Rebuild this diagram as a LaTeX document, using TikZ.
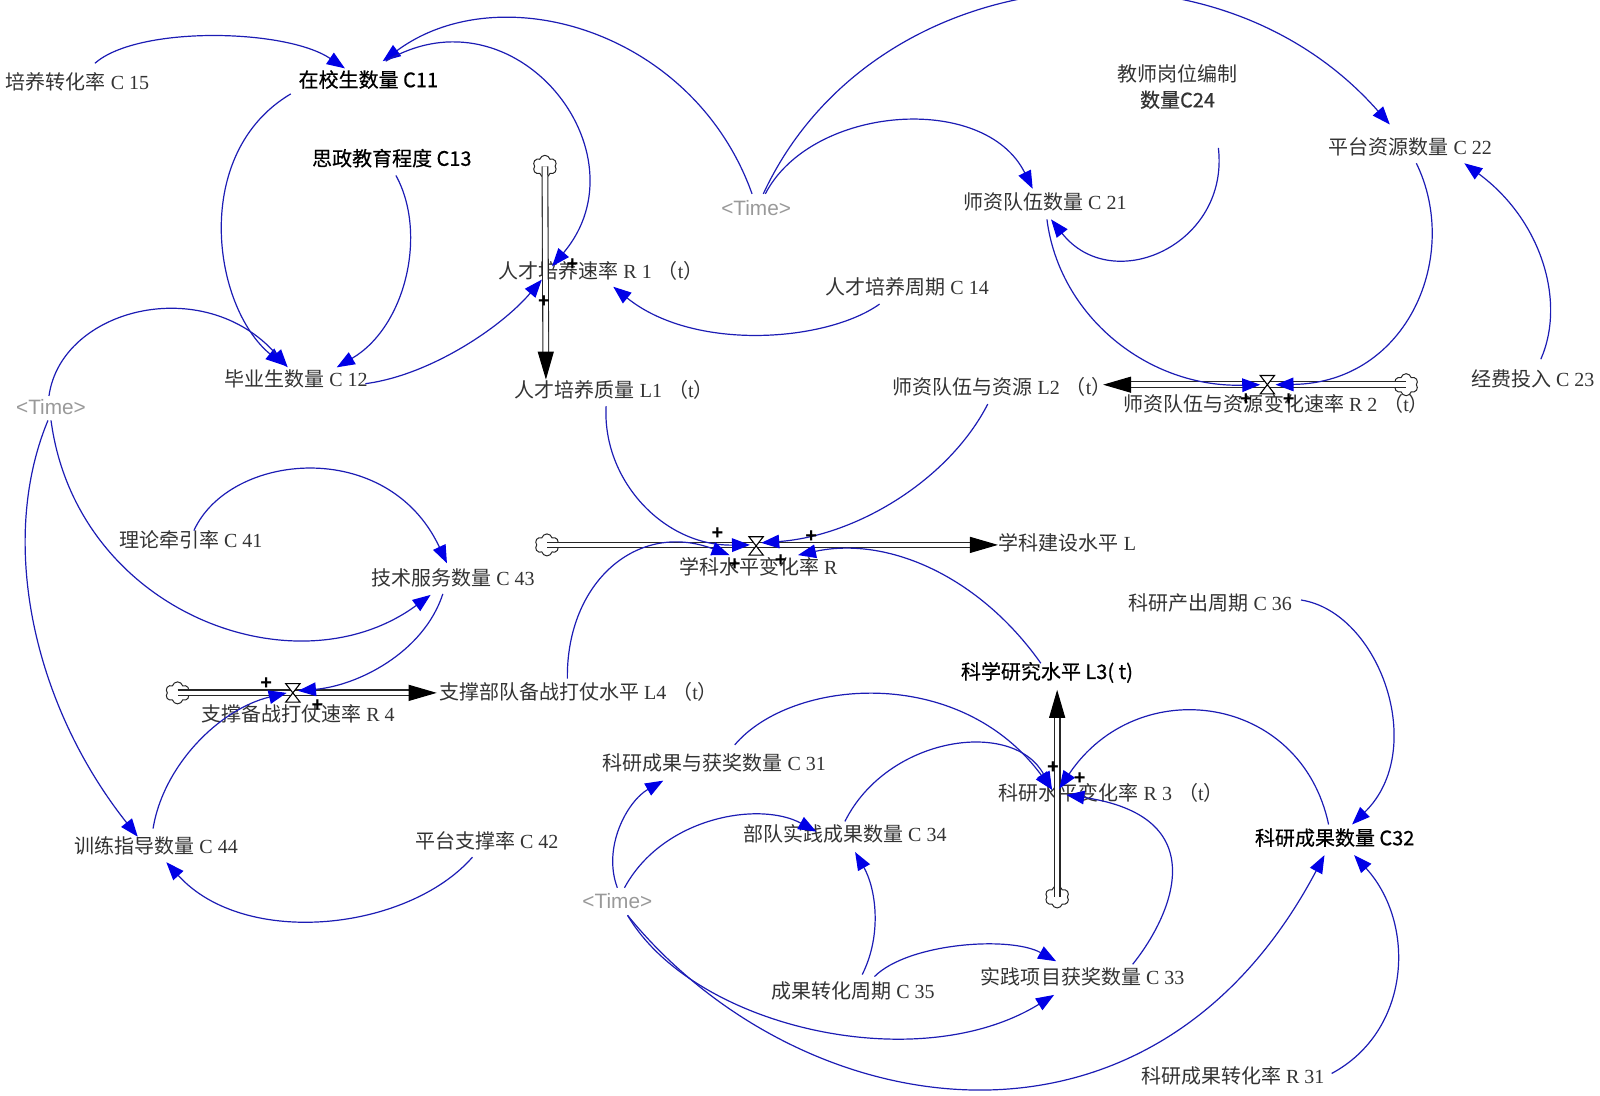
\documentclass[tikz,border=0pt]{standalone}
\usepackage{fontspec}
\setmainfont{Liberation Serif}
\newfontfamily\cjk{Noto Sans CJK SC}
\newfontfamily\cjkb[FakeBold=0.5]{Noto Sans CJK SC}
\newfontfamily\timefont{Liberation Sans}
\usetikzlibrary{arrows.meta,shapes.symbols}
\definecolor{linkcol}{HTML}{1C1CB4}
\definecolor{tipcol}{HTML}{0000E6}
\definecolor{timecol}{HTML}{999999}
\newcommand\zh[1]{{\cjk #1}}
\newcommand\tpar{\kern3pt\zh{（}t\zh{）}\kern-5pt}
\newcommand\lk[6]{\draw[link] ([shift={(#2)}]#1.center) .. controls (#5) and (#6) .. ([shift={(#4)}]#3.center);}
\newcommand\valve[2]{\node[inner sep=0pt,minimum size=0pt] (#1) at (#2) {};
  \draw[fill=white,line width=.55pt] ([shift={(-7,-9)}]#1.center) -- ([shift={(7,-9)}]#1.center) -- ([shift={(-7,9)}]#1.center) -- ([shift={(7,9)}]#1.center) -- cycle;}
\tikzset{
  lab/.style={inner sep=0pt,font=\fontsize{10}{12}\selectfont,text=black!80},
  blab/.style={inner sep=0pt,font=\cjkb\fontsize{10}{12}\selectfont,text=black},
  timelab/.style={inner sep=0pt,font=\timefont\fontsize{10.4}{12}\selectfont,text=timecol},
  pl/.style={inner sep=0pt,font=\timefont\bfseries\fontsize{10}{10}\selectfont},
  link/.style={draw=linkcol,line width=.6pt,-{Triangle[length=9pt,width=6.8pt,color=tipcol,fill=tipcol]}},
  pipe/.style={draw=black!85,line width=.55pt,double=white,double distance=2.3pt,-{Triangle[length=14pt,width=8pt,color=black,fill=black]}},
  cloudy/.style={cloud,draw=black!85,line width=.5pt,cloud puffs=6,cloud puff arc=150,aspect=1.2,inner sep=0pt,minimum width=12pt,minimum height=11pt},
}
\begin{document}
\begin{tikzpicture}[x=0.5102pt,y=-0.5102pt]
\useasboundingbox (0,0) rectangle (1568,1074);
\clip (0,0) rectangle (1568,1074);
% labels
\node[lab] (c15) at (76,80) {\zh{培养转化率} C 15};
\node[blab] (c11) at (361,78) {在校生数量 C11};
\node[blab] (c13) at (384,155) {思政教育程度 C13};
\node[lab] (r1) at (584,265) {\zh{人才培养速率} R 1\tpar};
\node[lab] (c14) at (889,281) {\zh{人才培养周期} C 14};
\node[lab] (c12) at (290,371) {\zh{毕业生数量} C 12};
\node[lab] (l1) at (597,382) {\zh{人才培养质量} L1\tpar};
\node[timelab] (t1) at (741,204) {<Time>};
\node[timelab] (t2) at (50,399) {<Time>};
\node[timelab] (t3) at (605,883) {<Time>};
\node[lab,align=center] (c24) at (1154,85) {\zh{教师岗位编制}\\[1pt]{\cjkb 数量C24}};
\node[lab] (c22) at (1382,144) {\zh{平台资源数量} C 22};
\node[lab] (c21) at (1024,198) {\zh{师资队伍数量} C 21};
\node[lab] (l2) at (977,379) {\zh{师资队伍与资源} L2\tpar};
\node[lab] (r2) at (1246,396) {\zh{师资队伍与资源变化速率} R 2\tpar};
\node[lab] (c23) at (1502,371) {\zh{经费投入} C 23};
\node[lab] (c41) at (187,529) {\zh{理论牵引率} C 41};
\node[lab] (c43) at (444,566) {\zh{技术服务数量} C 43};
\node[lab] (r) at (743,555) {\zh{学科水平变化率} R};
\node[lab] (l) at (1046,532) {\zh{学科建设水平} L};
\node[lab] (c36) at (1186,591) {\zh{科研产出周期} C 36};
\node[lab] (l4) at (562,678) {\zh{支撑部队备战打仗水平} L4\tpar};
\node[lab] (r4) at (292,700) {\zh{支撑备战打仗速率} R 4};
\node[blab] (l3) at (1026,659) {科学研究水平 L3( t)};
\node[lab] (c31) at (700,748) {\zh{科研成果与获奖数量} C 31};
\node[lab] (r3) at (1084,777) {\zh{科研水平变化率} R 3\tpar};
\node[lab] (c34) at (828,817) {\zh{部队实践成果数量} C 34};
\node[lab] (c42) at (477,824) {\zh{平台支撑率} C 42};
\node[lab] (c44) at (153,829) {\zh{训练指导数量} C 44};
\node[blab] (c32) at (1308,821) {科研成果数量 C32};
\node[lab] (c35) at (836,971) {\zh{成果转化周期} C 35};
\node[lab] (c33) at (1061,957) {\zh{实践项目获奖数量} C 33};
\node[lab] (r31) at (1208,1054) {\zh{科研成果转化率} R 31};
% clouds and pipes
\node[cloudy] (cl1) at (534,163) {};
\node[cloudy] (cl2) at (1378,377) {};
\node[cloudy] (cl3) at (1036,879) {};
\node[cloudy] (cl4) at (174,679) {};
\node[cloudy] (cl) at (536,534) {};
\draw[pipe] (cl1.center) -- ([shift={(-62,-10)}]l1.center);
\draw[pipe] (cl2.center) -- ([shift={(104,-2)}]l2.center);
\draw[pipe] (cl3.center) -- ([shift={(10,17)}]l3.center);
\draw[pipe] (cl4.center) -- ([shift={(-134,1)}]l4.center);
\draw[pipe] (cl.center) -- ([shift={(-68,2)}]l.center);
\valve{vr2}{1242,377}
\valve{vr4}{287,679}
\valve{vr}{741,535}
% links
\lk{c15}{17,-18}{c11}{-23,-11}{135,25}{280,28}
\lk{t1}{-4,-14}{c11}{14,-18}{680,30}{490,-25}
\lk{c11}{17,-18}{r1}{-43,-4}{505,-15}{635,150}
\lk{c11}{-76,14}{c12}{-12,-13}{187,150}{208,300}
\lk{c13}{4,17}{c12}{40,-11}{419,228}{398,320}
\lk{t2}{-2,-11}{c12}{-8,-11}{60,302}{200,267}
\lk{c12}{68,5}{r1}{-53,9}{420,368}{490,322}
\lk{c14}{-27,17}{r1}{17,16}{810,335}{680,345}
\lk{l1}{-3,16}{r}{-8,-21}{590,470}{650,535}
\lk{l4}{-6,-13}{r}{-28,-11}{555,570}{625,510}
\lk{l2}{-9,17}{r}{3,-23}{930,470}{840,525}
\lk{l3}{-6,-9}{r}{39,-11}{960,565}{870,525}
\lk{t1}{7,-14}{c22}{-20,-22}{855,-40}{1189,-75}
\lk{t1}{9,-14}{c21}{-12,-13}{795,103}{965,90}
\lk{c24}{40,60}{c21}{6,17}{1205,240}{1090,291}
\lk{c21}{2,17}{r2}{-11,-19}{1038,310}{1125,380}
\lk{c22}{6,16}{r2}{4,-19}{1432,250}{1380,375}
\lk{c23}{8,-19}{c22}{53,16}{1535,295}{1510,215}
\lk{c41}{3,-9}{c43}{-6,-14}{225,443}{380,428}
\lk{t2}{0,13}{c43}{-22,17}{75,600}{290,680}
\lk{c43}{-10,16}{r4}{0,-23}{415,640}{350,672}
\lk{t2}{-3,13}{c44}{-18,-9}{-2,530}{32,690}
\lk{c44}{-3,-17}{r4}{-11,-21}{160,750}{215,695}
\lk{c42}{-14,16}{c44}{10,16}{400,912}{240,930}
\lk{c31}{20,-18}{r3}{-53,-3}{775,665}{940,650}
\lk{c34}{0,-12}{r3}{-53,-3}{870,721}{993,704}
\lk{c32}{-6,-13}{r3}{-46,-4}{1275,680}{1115,658}
\lk{c33}{49,-12}{r3}{-39,2}{1150,895}{1190,800}
\lk{c36}{89,-3}{c32}{17,-13}{1352,600}{1400,735}
\lk{r31}{97,-2}{c32}{19,17}{1383,1010}{1388,905}
\lk{t3}{0,-13}{c31}{-50,17}{590,830}{615,785}
\lk{t3}{7,-13}{c34}{-28,-2}{650,800}{745,785}
\lk{t3}{10,14}{c33}{-28,18}{680,1007}{900,1057}
\lk{t3}{10,14}{c32}{-10,17}{780,1100}{1125,1165}
\lk{c35}{9,-16}{c34}{10,18}{865,915}{858,870}
\lk{c35}{21,-14}{c33}{-26,-15}{890,924}{990,917}
% polarity marks
\node[pl] (p1) at (561,259) {+};
\node[pl] (p2) at (533,296) {+};
\node[pl] (p3) at (703,523) {+};
\node[pl] (p4) at (795,526) {+};
\node[pl] (p5) at (720,553) {+};
\node[pl] (p6) at (765,549) {+};
\node[pl] (p7) at (1221,392) {+};
\node[pl] (p8) at (1263,392) {+};
\node[pl] (p9) at (1032,752) {+};
\node[pl] (p10) at (1058,763) {+};
\node[pl] (p11) at (261,670) {+};
\node[pl] (p12) at (311,692) {+};
\end{tikzpicture}
\end{document}
